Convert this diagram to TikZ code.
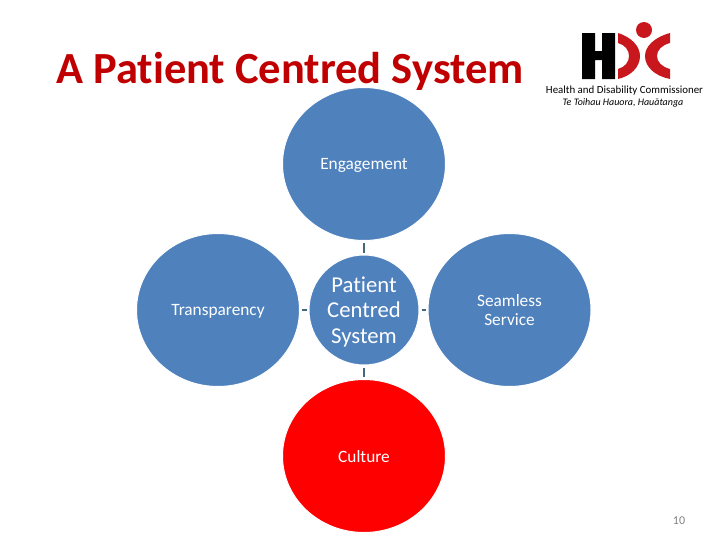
\documentclass[tikz,border=0pt]{standalone}
\usepackage{fontspec}
\usetikzlibrary{shapes.geometric}
\setmainfont[Ligatures=NoCommon]{Carlito}
\definecolor{hdcred}{HTML}{C00000}
\definecolor{logored}{HTML}{C8181E}
\definecolor{petal}{HTML}{4F81BD}
\definecolor{spoke}{HTML}{44697F}
\begin{document}
\begin{tikzpicture}[x=1pt,y=-1pt,
    petal/.style={draw=white,line width=1pt,shape=ellipse,fill=petal,text=white,text depth=0pt,
      minimum width=163pt,minimum height=153pt,inner sep=0pt,align=center,font=\fontsize{17.3}{19}\selectfont},
    hub/.style={petal,minimum width=110pt,minimum height=110pt,font=\fontsize{22.7}{25.5}\selectfont},
    link/.style={draw=spoke,line width=2pt,shorten <=2pt,shorten >=2pt}]
    \useasboundingbox (0,0) rectangle (728,546);
    \node[anchor=west,text=hdcred,font=\fontsize{44.5}{44.5}\selectfont\bfseries,inner sep=0pt] (title) at (56,71.5) {A Patient Centred System};
    \node[hub] (centre) at (364,310) {Patient\\Centred\\System};
    \node[petal] (engage) at (364,164) {Engagement};
    \node[petal] (seamless) at (509.5,310) {Seamless\\Service};
    \node[petal,fill=red] (culture) at (364,456) {Culture};
    \node[petal] (transp) at (218,310) {Transparency};
    \foreach \n in {engage,seamless,culture,transp}
    {
    \draw[link] (centre) -- (\n);
    }
    \node[text=gray,font=\fontsize{12}{12}\selectfont,inner sep=0pt] (page) at (679,521) {10};
    \fill[black] (582,33) rectangle (595,79) (602,33) rectangle (615,79) (595,51) rectangle (602,60);
    \fill[logored] (644,30) circle (8);
    \fill[logored] (618,33) .. controls (631,37) and (640,46) .. (640,56) .. controls (640,67) and (631,76) .. (618,79) -- (618,69) .. controls (625,67) and (629,62) .. (629,56) .. controls (629,50) and (625,45) .. (618,43) -- cycle;
    \fill[logored] (670,33) .. controls (655,37) and (645,46) .. (645,56) .. controls (645,67) and (655,76) .. (670,79) -- (670,69) .. controls (662,67) and (657,62) .. (657,56) .. controls (657,50) and (662,45) .. (670,43) -- cycle;
    \node[font=\fontsize{10.9}{10.9}\selectfont,inner sep=0pt] (logoname) at (624.5,90.5) {Health and Disability Commissioner};
    \node[font=\fontsize{10}{10}\selectfont\itshape,inner sep=0pt] (logosub) at (623,103) {Te Toihau Hauora, Hauātanga};
\end{tikzpicture}
\end{document}
